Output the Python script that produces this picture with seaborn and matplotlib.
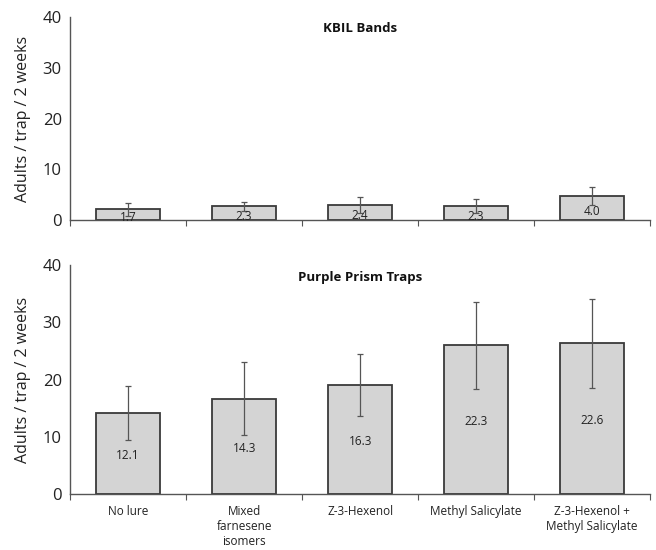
import numpy as np
import pandas as pd
import matplotlib
matplotlib.use("Agg")
import matplotlib.pyplot as plt
import seaborn as sns

categories = ["No lure", "Mixed\nfarnesene\nisomers", "Z-3-Hexenol",
              "Methyl Salicylate", "Z-3-Hexenol +\nMethyl Salicylate"]

# KBIL Bands
kbil_height = [2.1, 2.7, 2.9, 2.7, 4.7]
kbil_low = [0.7, 1.8, 1.3, 1.3, 2.9]
kbil_high = [3.4, 3.6, 4.5, 4.1, 6.5]
kbil_labels = ["1.7", "2.3", "2.4", "2.3", "4.0"]

# Purple Prism Traps
ppt_height = [14.2, 16.6, 19.0, 26.0, 26.3]
ppt_low = [9.5, 10.3, 13.6, 18.4, 18.6]
ppt_high = [18.8, 23.0, 24.4, 33.6, 34.0]
ppt_labels = ["12.1", "14.3", "16.3", "22.3", "22.6"]

yticks = [0, 10, 20, 30, 40]

sns.set_theme(style="white")
plt.rcParams['font.family'] = ['Open Sans', 'DejaVu Sans']

fig = plt.figure(figsize=(6.56, 5.5), dpi=100)
ax1 = fig.add_axes([0.107, 0.6, 0.884, 0.369])
ax2 = fig.add_axes([0.107, 0.102, 0.884, 0.416])


def draw(ax, heights, lows, highs, labels, title, show_xlabels, label_offset):
    df = pd.DataFrame({"cat": categories, "val": heights})
    sns.barplot(data=df, x="cat", y="val", ax=ax, color="#d4d4d4",
                edgecolor="#3a3a3a", linewidth=1.3, width=0.55,
                errorbar=None, saturation=1)
    h = np.array(heights)
    yerr = np.vstack([h - np.array(lows), np.array(highs) - h])
    ax.errorbar(np.arange(len(categories)), h, yerr=yerr, fmt="none",
                ecolor="#555555", elinewidth=0.9, capsize=2.5, capthick=0.9)
    for i, (v, lab) in enumerate(zip(heights, labels)):
        ax.text(i, v / 2 + label_offset, lab, ha="center", va="center",
                fontsize=8.5, color="#222222")
    ax.set_ylim(0, 40)
    ax.set_xlim(-0.5, len(categories) - 0.5)
    ax.set_yticks(yticks)
    ax.set_yticklabels([str(t) for t in yticks], fontsize=12)
    ax.set_ylabel("Adults / trap / 2 weeks", fontsize=11.5, color="#222222")
    ax.set_xlabel("")
    ax.yaxis.set_label_coords(-0.068, 0.5)
    ax.tick_params(axis="y", length=0, pad=6, colors="#222222")
    ax.set_xticks(np.arange(-0.5, len(categories), 1.0), minor=True)
    ax.tick_params(axis="x", which="major", length=0, pad=8, labelsize=8.5,
                   colors="#222222")
    ax.tick_params(axis="x", which="minor", length=4, width=0.8,
                   color="#555555", direction="out", bottom=True)
    if not show_xlabels:
        ax.set_xticklabels([])
    for s in ["top", "right"]:
        ax.spines[s].set_visible(False)
    for s in ["left", "bottom"]:
        ax.spines[s].set_color("#555555")
        ax.spines[s].set_linewidth(1.0)
    ax.text(0.5, 0.975, title, transform=ax.transAxes, ha="center", va="top",
            fontsize=9.5, fontweight="bold", color="#111111")


draw(ax1, kbil_height, kbil_low, kbil_high, kbil_labels, "KBIL Bands", False, -0.6)
draw(ax2, ppt_height, ppt_low, ppt_high, ppt_labels, "Purple Prism Traps", True, -0.4)

fig.savefig("out.png", dpi=100)
